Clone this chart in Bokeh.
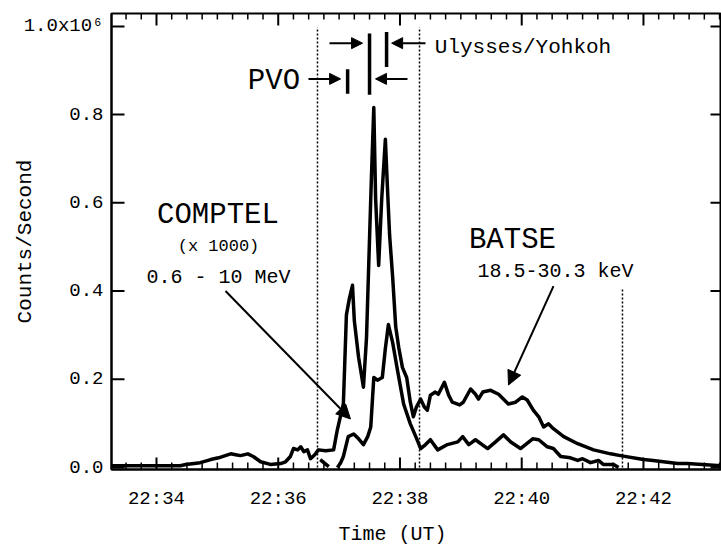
import numpy as np
from bokeh.plotting import figure
from bokeh.models import FixedTicker, Range1d, Label, Arrow, NormalHead, Title
from bokeh.embed import file_html
from bokeh.resources import INLINE

FONT = "Liberation Mono"
nan = float("nan")

# Time in minutes after 22:00 UT, counts/s in units of 1e6
batse_t = [33.26, 33.74, 34.39, 34.48, 34.72, 34.89, 35.02, 35.13, 35.22, 35.30,
           35.38, 35.50, 35.59, 35.71, 35.87, 36.04, 36.12, 36.20, 36.25, 36.32,
           36.37, 36.42, 36.48, 36.53, 36.60, 36.66, 36.78, 36.91, 36.97, 37.02,
           37.07, 37.12, 37.17, 37.22, 37.25, 37.32, 37.40, 37.45, 37.48, 37.53,
           37.57, 37.60, 37.65, 37.70, 37.76, 37.80, 37.83, 37.88, 37.93, 37.98,
           38.04, 38.11, 38.17, 38.22, 38.27, 38.34, 38.40, 38.45, 38.50, 38.58,
           38.63, 38.73, 38.80, 38.86, 38.98, 39.04, 39.16, 39.24, 39.29, 39.36,
           39.49, 39.62, 39.78, 39.90, 40.01, 40.09, 40.19, 40.28, 40.36, 40.44,
           40.52, 40.69, 40.92, 41.18, 41.46, 41.62, 42.00, 42.16, 42.56, 42.72,
           43.28]
batse_c = [0.004, 0.004, 0.004, 0.007, 0.011, 0.018, 0.022, 0.027, 0.031, 0.029,
           0.027, 0.031, 0.025, 0.013, 0.007, 0.009, 0.013, 0.025, 0.043, 0.040,
           0.047, 0.036, 0.040, 0.020, 0.029, 0.040, 0.038, 0.040, 0.085, 0.115,
           0.144, 0.346, 0.384, 0.413, 0.333, 0.250, 0.182, 0.294, 0.429, 0.654,
           0.816, 0.609, 0.458, 0.609, 0.744, 0.616, 0.526, 0.431, 0.319, 0.272,
           0.227, 0.204, 0.148, 0.115, 0.137, 0.155, 0.137, 0.130, 0.164, 0.171,
           0.166, 0.193, 0.164, 0.148, 0.142, 0.148, 0.178, 0.166, 0.155, 0.171,
           0.175, 0.166, 0.144, 0.148, 0.160, 0.153, 0.130, 0.115, 0.092, 0.099,
           0.088, 0.070, 0.054, 0.040, 0.031, 0.027, 0.018, 0.016, 0.009, 0.009,
           0.004]

comptel_t = [36.69, 36.83, nan, 36.97, 37.02, 37.07, 37.15, 37.24, 37.32, 37.40,
             37.47, 37.52, 37.57, 37.63, 37.71, 37.76, 37.81, 37.88, 37.96, 38.06,
             38.17, 38.26, 38.34, 38.42, 38.50, 38.62, 38.78, 38.95, 39.03, 39.13,
             39.24, 39.44, 39.57, 39.70, 39.82, 39.98, 40.18, 40.28, 40.42, 40.52,
             40.64, 40.80, 40.92, 41.00, 41.13, 41.26, 41.34, 41.51, 41.59]
comptel_c = [0.018, 0.002, nan, 0.000, 0.009, 0.025, 0.070, 0.076, 0.065, 0.052,
             0.070, 0.092, 0.204, 0.198, 0.204, 0.270, 0.324, 0.283, 0.220, 0.144,
             0.099, 0.070, 0.043, 0.052, 0.063, 0.040, 0.052, 0.058, 0.070, 0.052,
             0.063, 0.043, 0.058, 0.074, 0.058, 0.043, 0.065, 0.063, 0.047, 0.043,
             0.025, 0.022, 0.016, 0.020, 0.011, 0.016, 0.007, 0.007, 0.000]

time_ticks = [34, 36, 38, 40, 42]
time_tick_labels = ["22:34", "22:36", "22:38", "22:40", "22:42"]
count_ticks = [0.0, 0.2, 0.4, 0.6, 0.8, 1.0]
count_tick_labels = ["0.0", "0.2", "0.4", "0.6", "0.8", "1.0x10\u2076"]

marker_times = [36.645, 38.321, 41.655]
marker_tops = [0.998, 0.998, 0.407]
pvo_window = [37.14, 37.50]
uy_window = [37.50, 37.78]

minor_time = [33.25 + 0.25 * i for i in range(41)]
minor_time = [t for t in minor_time if t not in time_ticks]

W, H = 721, 553
L, R, T, B = 111, 0, 13, 80
X0, X1 = 33.261, 43.282
Y0, Y1 = -0.0045, 1.0292
DX = (X1 - X0) / (W - L - R)   # data units per pixel
DY = (Y1 - Y0) / (H - T - B)

p = figure(width=W, height=H, output_backend="svg", toolbar_location=None,
           x_range=Range1d(X0, X1), y_range=Range1d(Y0, Y1),
           min_border_left=L, min_border_right=R, min_border_top=T,
           min_border_bottom=B, background_fill_color="white")
p.xgrid.visible = False
p.ygrid.visible = False
p.outline_line_color = "black"
p.outline_line_width = 2

xa = p.xaxis[0]
xa.ticker = FixedTicker(ticks=time_ticks, minor_ticks=[])
xa.axis_line_width = 2
xa.major_tick_in = 0
xa.major_tick_out = 0
xa.minor_tick_in = 0
xa.minor_tick_out = 0
xa.major_label_overrides = dict(zip(time_ticks, time_tick_labels))
xa.major_label_text_font = FONT
xa.major_label_text_font_size = "19px"
xa.major_label_text_color = "black"
xa.major_label_standoff = 18

ya = p.yaxis[0]
ya.ticker = FixedTicker(ticks=count_ticks, minor_ticks=[])
ya.axis_line_width = 2
ya.major_tick_in = 0
ya.major_tick_out = 0
ya.minor_tick_in = 0
ya.minor_tick_out = 0
ya.major_label_overrides = dict(zip(count_ticks, count_tick_labels))
ya.major_label_text_font = FONT
ya.major_label_text_font_size = "19px"
ya.major_label_text_color = "black"
ya.major_label_standoff = 8
ya.axis_label = "Counts/Second"
ya.axis_label_text_font = FONT
ya.axis_label_text_font_size = "21px"
ya.axis_label_text_font_style = "normal"
ya.axis_label_text_color = "black"
ya.axis_label_standoff = -16

# x-axis title placed under the tick labels
p.add_layout(Title(text="Time (UT)", align="left", offset=227, standoff=16,
                   text_font=FONT, text_font_size="20px", text_font_style="normal",
                   text_color="black", vertical_align="bottom"), "below")

nM, nm, nc = len(time_ticks), len(minor_time), len(count_ticks)

# dotted time markers
p.segment(x0=marker_times, y0=[0] * 3, x1=marker_times, y1=marker_tops,
          line_color="black", line_width=1.5, line_dash="2 2")

# curves
p.line(batse_t, batse_c, line_color="black", line_width=3.5, line_join="round")
p.line(comptel_t, comptel_c, line_color="black", line_width=3.5, line_join="round")

# inward tick marks on all four frame edges (drawn inside the frame)
# bottom: dash markers
p.scatter(x=time_ticks, y=[Y0 + 6 * DY] * nM, marker="dash", angle=np.pi / 2,
          size=12, line_width=2, line_color="black")
p.scatter(x=minor_time, y=[Y0 + 3.5 * DY] * nm, marker="dash", angle=np.pi / 2,
          size=7, line_width=1.5, line_color="black")
# top
p.segment(x0=time_ticks, y0=[Y1] * nM, x1=time_ticks, y1=[Y1 - 12 * DY] * nM,
          line_width=2, line_color="black")
p.segment(x0=minor_time, y0=[Y1] * nm, x1=minor_time, y1=[Y1 - 6 * DY] * nm,
          line_width=1.5, line_color="black")
# left
p.segment(x0=[X0] * nc, y0=count_ticks, x1=[X0 + 13 * DX] * nc, y1=count_ticks,
          line_width=2, line_color="black")
# right
p.segment(x0=[X1] * nc, y0=count_ticks, x1=[X1 - 11 * DX] * nc, y1=count_ticks,
          line_width=2, line_color="black")

# instrument windows (vertical bars)
p.segment(x0=[pvo_window[0], pvo_window[1], uy_window[1]],
          y0=[0.847, 0.845, 0.908],
          x1=[pvo_window[0], pvo_window[1], uy_window[1]],
          y1=[0.903, 0.984, 0.987],
          line_color="black", line_width=3.5)


def arrow(x0, y0, x1, y1, size=11, lw=2):
    p.add_layout(Arrow(end=NormalHead(size=size, fill_color="black", line_color="black"),
                       x_start=x0, y_start=y0, x_end=x1, y_end=y1,
                       line_color="black", line_width=lw))


arrow(36.842, 0.962, pvo_window[1] - 0.115, 0.962)
arrow(38.419, 0.962, uy_window[1] + 0.083, 0.962)
arrow(36.497, 0.881, pvo_window[0] - 0.115, 0.881)
arrow(38.123, 0.881, pvo_window[1] + 0.098, 0.881)
arrow(35.134, 0.400, 37.187, 0.110, size=14, lw=2)
arrow(40.522, 0.411, 39.783, 0.187, size=14, lw=2)


def label(x, y, text, size):
    p.add_layout(Label(x=x, y=y, text=text, text_font=FONT, text_font_size=size,
                       text_align="center", text_baseline="middle",
                       text_color="black"))


label(35.010, 0.571, "COMPTEL", "29px")
label(35.019, 0.501, "(x 1000)", "17px")
label(35.019, 0.431, "0.6 - 10 MeV", "20px")
label(39.848, 0.515, "BATSE", "29px")
label(40.555, 0.445, "18.5-30.3 keV", "20px")
label(35.930, 0.874, "PVO", "29px")
label(40.021, 0.951, "Ulysses/Yohkoh", "21px")

open("out.html", "w").write(file_html(p, INLINE))
